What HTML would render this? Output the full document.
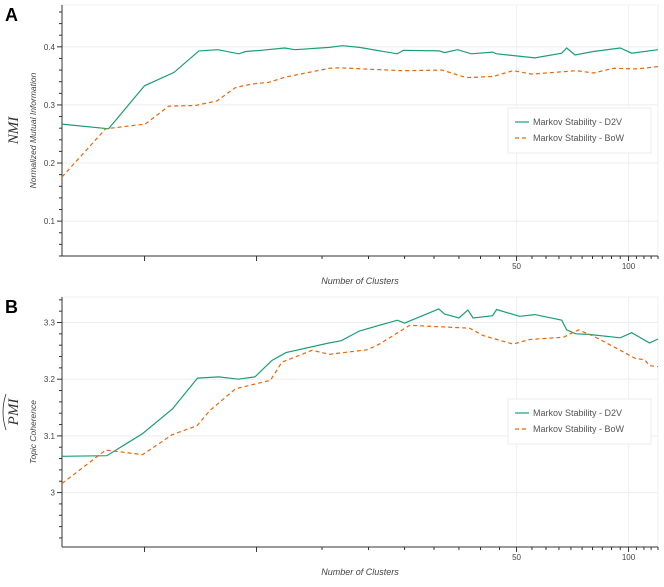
<!DOCTYPE html>
<html><head><meta charset="utf-8"><style>
body{margin:0;background:#fff;}
svg text{font-family:"Liberation Sans",sans-serif;}
</style></head><body>
<svg id="chart" width="664" height="582" xmlns="http://www.w3.org/2000/svg"></svg>
<script>
const aD2vX=[3,4,5,6,7,7.87,8.96,9.35,10.3,11.9,12.7,15.7,17,18.9,23.9,24.8,31,32,34.7,37.8,43.1,44.2,56,66.1,68.2,71.8,80.4,95,102,120];
const aD2vY=[0.267,0.259,0.333,0.356,0.393,0.395,0.388,0.392,0.394,0.398,0.395,0.399,0.402,0.399,0.388,0.394,0.393,0.390,0.395,0.388,0.391,0.388,0.381,0.389,0.398,0.386,0.392,0.398,0.389,0.395];
const aBowX=[3,3.93,5.02,5.81,6.85,7.83,8.78,9.73,10.8,11.98,15.7,16.7,19.3,24.7,31.6,36.6,43.2,48.9,54.9,72.5,80.5,91,105.5,120];
const aBowY=[0.176,0.259,0.267,0.298,0.299,0.307,0.330,0.336,0.339,0.348,0.363,0.364,0.362,0.359,0.360,0.347,0.349,0.359,0.353,0.359,0.355,0.363,0.362,0.366];
const bD2vX=[3,3.96,4.94,5.95,6.94,7.92,8.93,9.9,11,12,15.7,16.9,18.9,23.9,25,30.9,32,35,37,38.2,43.1,44.2,50.9,56,66.1,68.2,72.2,78.1,95,102,113.8,120];
const bD2vY=[3.064,3.065,3.104,3.148,3.202,3.204,3.200,3.204,3.233,3.247,3.264,3.268,3.285,3.304,3.299,3.324,3.315,3.308,3.322,3.308,3.312,3.323,3.311,3.314,3.304,3.287,3.280,3.279,3.273,3.282,3.264,3.271];
const bBowX=[3,3.93,4.94,5.93,6.92,7.5,8.78,9.84,10.9,11.7,14.1,15.7,19.9,21.4,25.8,37.4,40.6,48.9,54.2,66.9,73.3,80.5,95,104,110.5,113.8,120];
const bBowY=[3.016,3.075,3.067,3.102,3.118,3.145,3.183,3.191,3.198,3.230,3.251,3.244,3.252,3.262,3.295,3.290,3.277,3.262,3.270,3.274,3.287,3.276,3.251,3.237,3.234,3.224,3.222];
const xTickLabels=[50,100];
const aYTicks=[0.1,0.2,0.3,0.4];
const bYTicks=[3,3.1,3.2,3.3];

const NS="http://www.w3.org/2000/svg";
const svg=document.getElementById('chart');
function mk(tag,attrs,parent){const e=document.createElementNS(NS,tag);for(const k in attrs)e.setAttribute(k,attrs[k]);(parent||svg).appendChild(e);return e;}
const X0=62,X1=658,XMIN=3,XMAX=120;
function xs(v){return X0+(Math.log10(v)-Math.log10(XMIN))/(Math.log10(XMAX)-Math.log10(XMIN))*(X1-X0);}
const GREEN="#1b9e77",ORANGE="#e6670f";

function panel(cfg){
  const g=mk('g',{});
  
  
  const ys=v=>cfg.top+(cfg.ymax-v)/(cfg.ymax-cfg.ymin)*(cfg.bot-cfg.top);
  // frame
  const fr=mk('rect',{x:X0,y:cfg.top,width:X1-X0,height:cfg.bot-cfg.top,fill:'none',stroke:'#f0f0f0','stroke-width':1},g);
  
  // grid
  cfg.yticks.forEach(t=>{const l=mk('line',{x1:X0,x2:X1,y1:ys(t),y2:ys(t),stroke:'#eeeeee'},g);
    });
  xTickLabels.forEach(t=>{const l=mk('line',{x1:xs(t),x2:xs(t),y1:cfg.top,y2:cfg.bot,stroke:'#f0f0f0'},g);
    });
  // y axis
  const ya=mk('line',{x1:X0,x2:X0,y1:cfg.top,y2:cfg.bot,stroke:'#333','stroke-width':1},g);
  
  for(let v=cfg.ymin+1e-9;v<=cfg.ymax;v+=0.02){
    const vv=Math.ceil(v/0.02-1e-6)*0.02; if(vv>cfg.ymax)break;
    const major=cfg.yticks.some(t=>Math.abs(t-vv)<1e-6);
    const y=ys(vv);
    const tk=mk('line',{x1:X0-(major?5:3),x2:X0,y1:y,y2:y,stroke:'#333'},g);
    
  }
  cfg.yticks.forEach(t=>{const tx=mk('text',{x:X0-7,y:ys(t)+3,'font-size':8,fill:'#444','text-anchor':'end'},g);
    tx.textContent=(cfg.fmt?cfg.fmt(t):t);});
  // x axis
  const xa=mk('line',{x1:X0,x2:X1,y1:cfg.bot,y2:cfg.bot,stroke:'#333'},g);
  
  for(let v=5;v<=120;v+=5){const x=xs(v);const major=(v===10||v===50||v===100||v===5);
    const tk=mk('line',{x1:x,x2:x,y1:cfg.bot,y2:cfg.bot+(major?5:3),stroke:'#333'},g);
    }
  xTickLabels.forEach(t=>{const tx=mk('text',{x:xs(t),y:cfg.bot+13,'font-size':8,fill:'#444','text-anchor':'middle'},g);
    tx.textContent=t;});
  const xt=mk('text',{x:360,y:cfg.bot+28,'font-size':9,fill:'#444','text-anchor':'middle','font-style':'italic'},g);
  xt.textContent='Number of Clusters';
  // y titles
  const cy=(cfg.top+cfg.bot)/2;
  const yt=mk('text',{x:0,y:0,'font-size':8.5,fill:'#444','text-anchor':'middle','font-style':'italic',transform:`translate(36,${cy+cfg.subOff}) rotate(-90)`},g);
  yt.textContent=cfg.sub;
  const ym=mk('text',{x:0,y:0,'font-size':15,fill:'#333','text-anchor':'middle','font-style':'italic',style:'font-family:"Liberation Serif",serif',transform:`translate(18,${cy+cfg.mainOff}) rotate(-90)`},g);
  ym.textContent=cfg.main;
  if(cfg.hat){const h=mk('path',{d:`M6,${cy+cfg.mainOff+18} Q0,${cy+cfg.mainOff} 6,${cy+cfg.mainOff-18}`,fill:'none',stroke:'#333','stroke-width':0.8},g);
    }
  // series
  function series(xa,ya,color,dash,name){
    const p=xa.map((v,i)=>`${i?'L':'M'}${xs(v).toFixed(1)},${ys(ya[i]).toFixed(1)}`).join('');
    const a={d:p,fill:'none',stroke:color,'stroke-width':1.2};if(dash)a['stroke-dasharray']=dash;
    const s=mk('path',a,g);
  }
  series(cfg.d2vX,cfg.d2vY,GREEN,null,'d2v-line');
  series(cfg.bowX,cfg.bowY,ORANGE,'4,3','bow-line');
  // legend
  const lg=mk('g',{},g);
  const ly=cfg.legY;
  mk('rect',{x:508,y:ly,width:143,height:45,fill:'#fff',stroke:'#eeeeee'},lg);
  const e1=mk('g',{},lg);
  mk('line',{x1:515,x2:529,y1:ly+14,y2:ly+14,stroke:GREEN,'stroke-width':1.2},e1);
  const t1=mk('text',{x:533,y:ly+17,'font-size':9,fill:'#555'},e1);t1.textContent='Markov Stability - D2V';
  const e2=mk('g',{},lg);
  mk('line',{x1:515,x2:529,y1:ly+30,y2:ly+30,stroke:ORANGE,'stroke-width':1.2,'stroke-dasharray':'4,3'},e2);
  const t2=mk('text',{x:533,y:ly+33,'font-size':9,fill:'#555'},e2);t2.textContent='Markov Stability - BoW';
  const pl=mk('text',{x:5,y:cfg.top+16,'font-size':18,'font-weight':'bold',fill:'#000'},g);
  pl.textContent=cfg.label;
}
panel({name:'panel-a-nmi',label:'A',top:5,bot:256,ymin:0.04,ymax:0.472,yticks:aYTicks,
  main:'NMI',sub:'Normalized Mutual Information',mainOff:0,subOff:0,legY:108,
  d2vX:aD2vX,d2vY:aD2vY,bowX:aBowX,bowY:aBowY});
panel({name:'panel-b-pmi',label:'B',top:297,bot:547,ymin:2.904,ymax:3.345,yticks:bYTicks,fmt:t=>t===3?'3':t.toFixed(1),
  main:'PMI',sub:'Topic Coherence',mainOff:-10,subOff:10,hat:true,legY:399,
  d2vX:bD2vX,d2vY:bD2vY,bowX:bBowX,bowY:bBowY});
</script>
</body></html>
